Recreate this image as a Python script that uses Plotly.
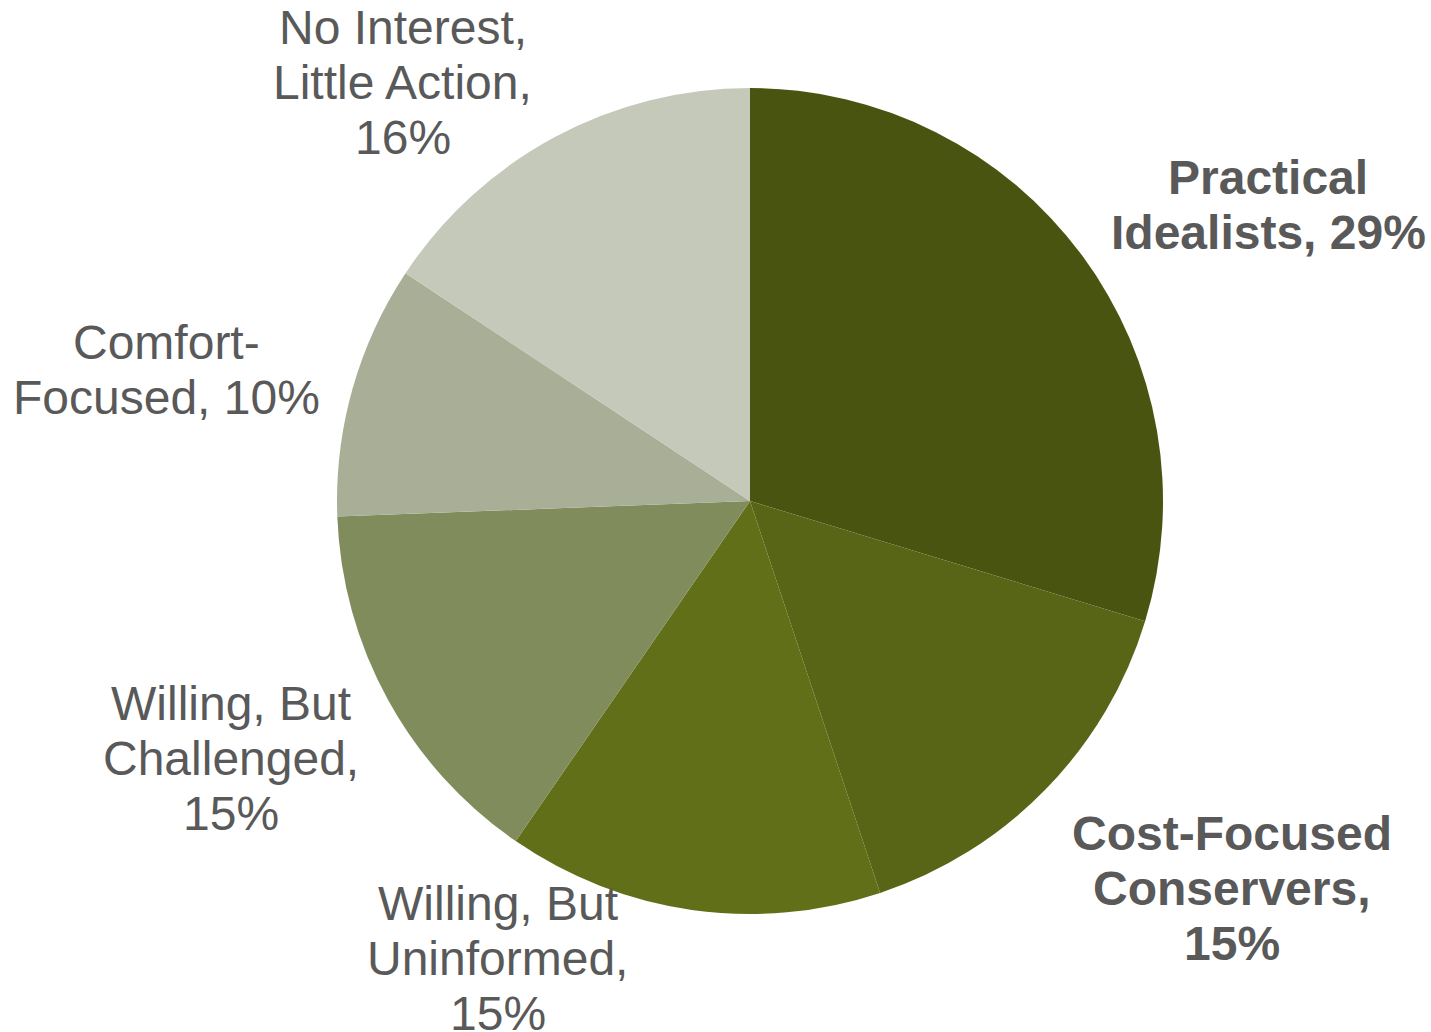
import plotly.graph_objects as go

categories = ["Practical Idealists", "Cost-Focused Conservers", "Willing, But Uninformed",
              "Willing, But Challenged", "Comfort-Focused", "No Interest, Little Action"]
values = [29.7, 15.2, 14.7, 14.8, 9.9, 15.7]
pct_labels = ["29%", "15%", "15%", "15%", "10%", "16%"]
label_lines = [
    ["Practical", "Idealists, 29%"],
    ["Cost-Focused", "Conservers,", "15%"],
    ["Willing, But", "Uninformed,", "15%"],
    ["Willing, But", "Challenged,", "15%"],
    ["Comfort-", "Focused, 10%"],
    ["No Interest,", "Little Action,", "16%"],
]
bold = [True, True, False, False, False, False]
colors = ["#4A5411", "#586516", "#626F19", "#818C5C", "#A9AF97", "#C5C9BA"]

# label block centres (paper coords)
label_pos = [(0.8861, 0.8014), (0.8609, 0.1395), (0.348, 0.0717),
             (0.1614, 0.2655), (0.1167, 0.6415), (0.2816, 0.9205)]

W, H = 1431, 1032
cx, cy, r = 750, 501, 413

fig = go.Figure(go.Pie(
    labels=categories,
    values=values,
    sort=False,
    direction="clockwise",
    rotation=0,
    marker=dict(colors=colors, line=dict(width=0)),
    textinfo="none",
    hoverinfo="label+percent",
    showlegend=False,
    domain=dict(x=[(cx - r) / W, (cx + r) / W], y=[1 - (cy + r) / H, 1 - (cy - r) / H]),
))

line_gap = 55
annotations = []
for lines, b, (x, y) in zip(label_lines, bold, label_pos):
    n = len(lines)
    for i, ln in enumerate(lines):
        txt = f"<b>{ln}</b>" if b else ln
        annotations.append(dict(
            x=x, y=y, xref="paper", yref="paper",
            text=txt, showarrow=False,
            xanchor="center", yanchor="middle",
            yshift=-(i - (n - 1) / 2) * line_gap,
            font=dict(family="Liberation Sans, Arial, sans-serif", size=48, color="#595959"),
        ))

fig.update_layout(
    width=W, height=H,
    margin=dict(l=0, r=0, t=0, b=0),
    paper_bgcolor="white",
    plot_bgcolor="white",
    annotations=annotations,
)

fig.write_html("out.html")
